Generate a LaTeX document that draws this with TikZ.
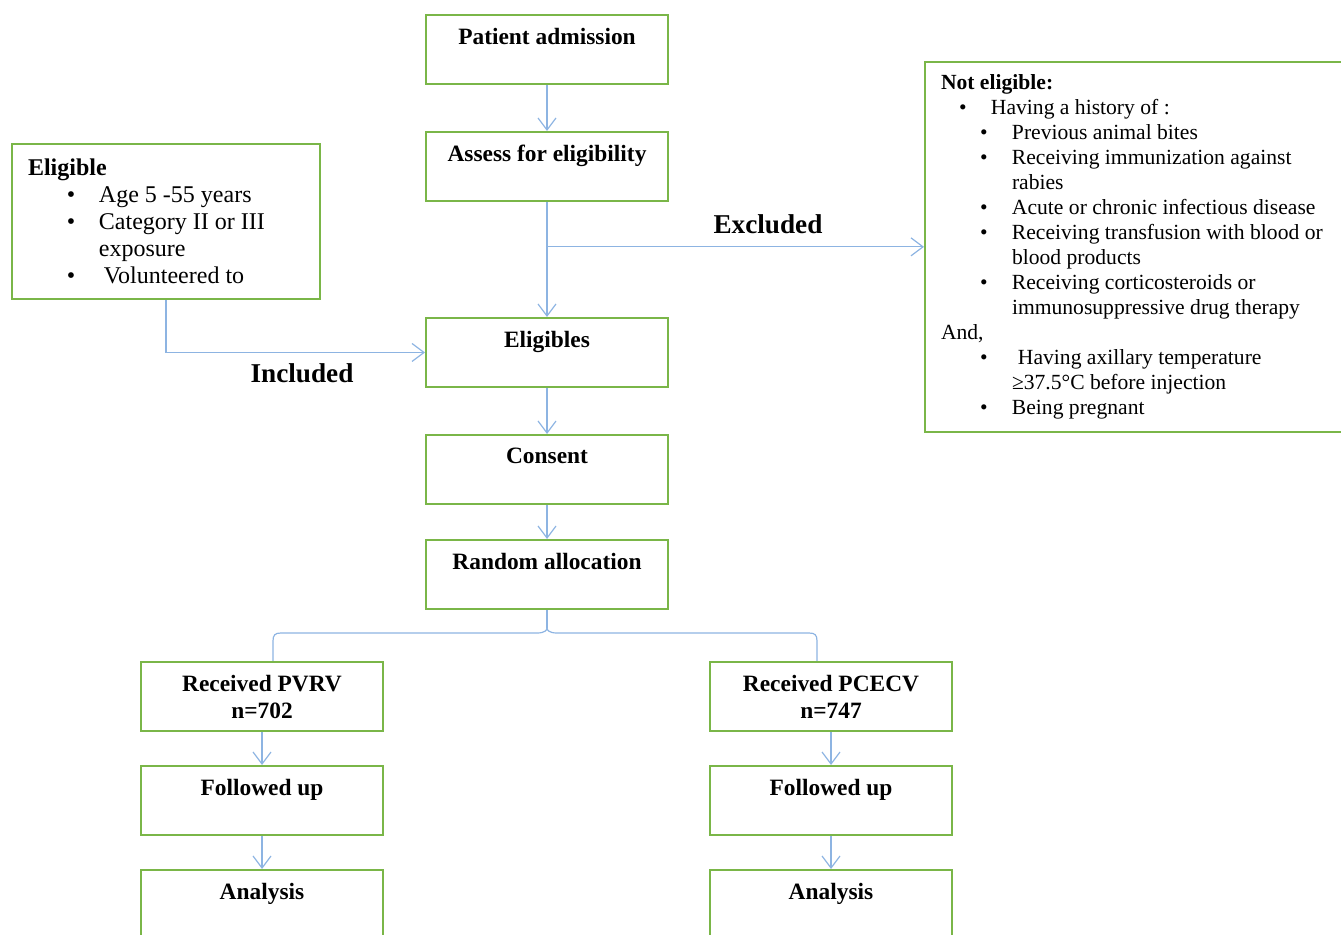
\documentclass[tikz,border=0pt]{standalone}
\usepackage{fontspec}
\setmainfont{Liberation Serif}
\usetikzlibrary{%
  arrows.meta,%
  positioning,% wg. " of "
  calc%
}
\definecolor{boxgreen}{RGB}{122,182,72}
\definecolor{linkblue}{RGB}{141,180,226}
\newcommand{\bulA}{\hspace*{9pt}\makebox[16pt][l]{\textbullet}}
\newcommand{\bulB}{\hspace*{19.5pt}\makebox[16pt][l]{\textbullet}}
\newcommand{\contB}{\hspace*{35.5pt}}

\begin{document}
\begin{tikzpicture}[
    x=0.5pt,y=-0.5pt,
    >={Straight Barb[length=6pt,width=9pt]},
    stage/.style={rectangle,draw=boxgreen,line width=1pt,
        minimum width=121pt,minimum height=34.5pt,align=center,
        font=\bfseries\fontsize{11.7}{13.5}\selectfont},
    criteria/.style={rectangle,draw=boxgreen,line width=1pt,
        anchor=north west,inner xsep=8pt,align=flush left},
    flow/.style={draw=linkblue,line width=0.6pt},
    tag/.style={font=\bfseries\fontsize{13.6}{16}\selectfont},
    node distance=23pt
  ]
    \clip (0,0) rectangle (1341,935);

    % main column
    \node (admit)   [stage] at (547,49.5) {Patient admission\\\mbox{}};
    \node (assess)  [stage,below=of admit] {Assess for eligibility\\\mbox{}};
    \node (eligs)   [stage,below=57.5pt of assess] {Eligibles\\\mbox{}};
    \node (consent) [stage,below=of eligs] {Consent\\\mbox{}};
    \node (alloc)   [stage,below=17pt of consent] {Random allocation\\\mbox{}};

    % arms
    \node (pvrv)      [stage] at (262,696.5) {Received PVRV\\n=702};
    \node (follow1)   [stage,below=16.5pt of pvrv] {Followed up\\\mbox{}};
    \node (analysis1) [stage,below=16.5pt of follow1] {Analysis\\\mbox{}};
    \node (pcecv)     [stage] at (831,696.5) {Received PCECV\\n=747};
    \node (follow2)   [stage,below=16.5pt of pcecv] {Followed up\\\mbox{}};
    \node (analysis2) [stage,below=16.5pt of follow2] {Analysis\\\mbox{}};

    % criteria
    \node (eligible) [criteria,text width=138pt,minimum height=77.5pt,
        font=\fontsize{12}{13.5}\selectfont] at (11,143) {%
      \textbf{Eligible}\\
      \bulB Age 5 -55 years\\
      \bulB Category II or III\\
      \contB exposure\\
      \bulB\hspace{2.5pt}Volunteered to};
    \node (noteli) [criteria,text width=230pt,minimum height=185pt,
        font=\fontsize{10.8}{12.5}\selectfont] at (924,61) {%
      \textbf{Not eligible:}\\
      \bulA Having a history of :\\
      \bulB Previous animal bites\\
      \bulB Receiving immunization against\\
      \contB rabies\\
      \bulB Acute or chronic infectious disease\\
      \bulB Receiving transfusion with blood or\\
      \contB blood products\\
      \bulB Receiving corticosteroids or\\
      \contB immunosuppressive drug therapy\\
      And,\\
      \bulB\hspace{3pt}Having axillary temperature\\
      \contB ≥37.5°C before injection\\
      \bulB Being pregnant};

    \node (inclab) [tag] at (302,373) {Included};
    \node (exclab) [tag] at (768,224) {Excluded};

    \coordinate (split) at ($(assess.south)!0.39!(eligs.north)$);
    \coordinate (tip) at ([yshift=-9pt]alloc.south);

    \begin{scope}[flow,->]
        \draw (admit) -- (assess);
        \draw (assess) -- (eligs);
        \draw (split) -- (split -| noteli.west);
        \draw (eligible.south) |- (eligs.west);
        \draw (eligs) -- (consent);
        \draw (consent) -- (alloc);
        \draw (pvrv) -- (follow1);
        \draw (follow1) -- (analysis1);
        \draw (pcecv) -- (follow2);
        \draw (follow2) -- (analysis2);
    \end{scope}

    % brace
    \draw[flow] (alloc.south) -- (tip);
    \draw[flow] (tip) .. controls (547,630) and (545,633) .. (537,633)
        -- (281,633) .. controls (275,633) and (273,635) .. (273,641)
        -- ([xshift=5.5pt]pvrv.north);
    \draw[flow] (tip) .. controls (547,630) and (549,633) .. (557,633)
        -- (809,633) .. controls (815,633) and (817,635) .. (817,641)
        -- ([xshift=-7pt]pcecv.north);
\end{tikzpicture}
\end{document}
